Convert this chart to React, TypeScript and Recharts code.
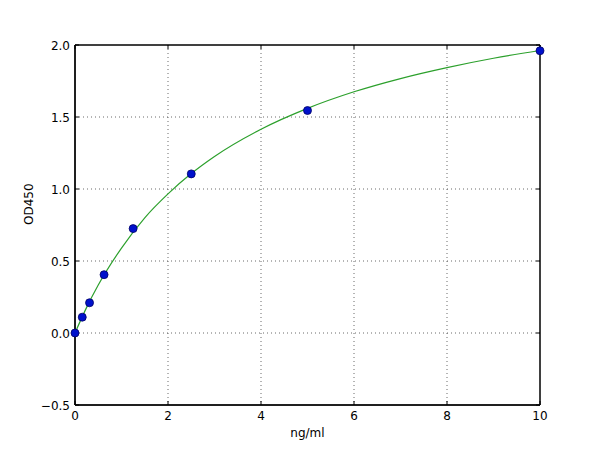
import React from 'react';
import { ComposedChart, Line, Scatter, XAxis, YAxis, CartesianGrid, ReferenceArea } from 'recharts';

// standards (ng/ml) and measured OD450
const standardConc = [0, 0.156, 0.3125, 0.625, 1.25, 2.5, 5, 10];
const standardOD = [0, 0.11, 0.21, 0.405, 0.725, 1.105, 1.545, 1.96];

// fitted curve
const curveConc = [0, 0.25, 0.5, 1, 1.5, 2, 2.5, 3, 4, 5, 6, 7, 8, 9, 10];
const curveOD = [0, 0.178, 0.333, 0.59, 0.8, 0.966, 1.107, 1.226, 1.415, 1.56, 1.675, 1.767, 1.843, 1.908, 1.962];

const xTicks = [0, 2, 4, 6, 8, 10];
const yTicks = [-0.5, 0, 0.5, 1, 1.5, 2];

const points = standardConc.map((x, i) => ({ x, y: standardOD[i] }));
const curve = curveConc.map((x, i) => ({ x, y: curveOD[i] }));

const font = 'DejaVu Sans, sans-serif';
const fmtY = (v: number) => v.toFixed(1).replace('-', '\u2212');

const near = (a: number, b: number) => Math.abs(a - b) < 1;

// grid line, dotted (solid on the frame), with inward ticks at both ends
const HGrid = (p: any) => {
  const edge = near(p.y1, p.y) || near(p.y1, p.y + p.height);
  return (
    <g>
      {edge ? (
        <line x1={p.x1} y1={p.y1} x2={p.x2} y2={p.y2} stroke="#000" />
      ) : (
        <line x1={p.x1} y1={p.y1} x2={p.x2} y2={p.y2} stroke="#444" strokeWidth={0.8} strokeDasharray="1 3" />
      )}
      <line x1={p.x1} y1={p.y1} x2={p.x1 + 4} y2={p.y1} stroke="#000" />
      <line x1={p.x2 - 4} y1={p.y2} x2={p.x2} y2={p.y2} stroke="#000" />
    </g>
  );
};

const VGrid = (p: any) => {
  const edge = near(p.x1, p.x) || near(p.x1, p.x + p.width);
  return (
    <g>
      {edge ? (
        <line x1={p.x1} y1={p.y1} x2={p.x2} y2={p.y2} stroke="#000" />
      ) : (
        <line x1={p.x1} y1={p.y1} x2={p.x2} y2={p.y2} stroke="#444" strokeWidth={0.8} strokeDasharray="1 3" />
      )}
      <line x1={p.x1} y1={p.y1} x2={p.x1} y2={p.y1 + 4} stroke="#000" />
      <line x1={p.x2} y1={p.y2 - 4} x2={p.x2} y2={p.y2} stroke="#000" />
    </g>
  );
};

const BottomTick = (props: any) => {
  const { x, y, payload } = props;
  return (
    <text x={x} y={y + 15} textAnchor="middle" fontSize={12} fontFamily={font} fill="#000">
      {payload.value}
    </text>
  );
};

const LeftTick = (props: any) => {
  const { x, y, payload } = props;
  return (
    <text x={x - 5} y={y + 4.5} textAnchor="end" fontSize={12} fontFamily={font} fill="#000">
      {fmtY(payload.value)}
    </text>
  );
};

export default function App() {
  return (
    <div style={{ position: 'absolute', left: 0, top: 0, width: 600, height: 450, background: '#fff' }}>
      <ComposedChart width={600} height={450} margin={{ top: 45, right: 60, bottom: 0, left: 0 }}>
        <CartesianGrid xAxisId="b" yAxisId="l" horizontal={HGrid} vertical={VGrid} />
        <XAxis
          xAxisId="b"
          type="number"
          dataKey="x"
          domain={[0, 10]}
          ticks={xTicks}
          height={45}
          tickSize={0}
          tickMargin={0}
          tick={<BottomTick />}
          axisLine={{ stroke: '#000' }}
          tickLine={false}
          label={{ value: 'ng/ml', position: 'insideBottom', offset: 13, fontSize: 12, fontFamily: font, fill: '#000' }}
        />
        <YAxis
          yAxisId="l"
          type="number"
          domain={[-0.5, 2]}
          ticks={yTicks}
          width={75}
          tickSize={0}
          tickMargin={0}
          tick={<LeftTick />}
          axisLine={{ stroke: '#000' }}
          tickLine={false}
          label={{ value: 'OD450', angle: -90, position: 'insideLeft', offset: 29, fontSize: 12, fontFamily: font, fill: '#000' }}
        />
        <ReferenceArea
          xAxisId="b"
          yAxisId="l"
          x1={0}
          x2={10}
          y1={-0.5}
          y2={2}
          fill="none"
          fillOpacity={0}
          stroke="#000"
          strokeOpacity={1}
          ifOverflow="visible"
        />
        <Line
          xAxisId="b"
          yAxisId="l"
          data={curve}
          dataKey="y"
          type="monotone"
          stroke="#2ca02c"
          strokeWidth={1.2}
          dot={false}
          isAnimationActive={false}
        />
        <Scatter
          xAxisId="b"
          yAxisId="l"
          data={points}
          dataKey="y"
          fill="#0011cc"
          shape={(p: any) => <circle cx={p.cx} cy={p.cy} r={4} fill="#0011cc" stroke="#000066" strokeWidth={0.8} />}
          isAnimationActive={false}
        />
      </ComposedChart>
    </div>
  );
}
